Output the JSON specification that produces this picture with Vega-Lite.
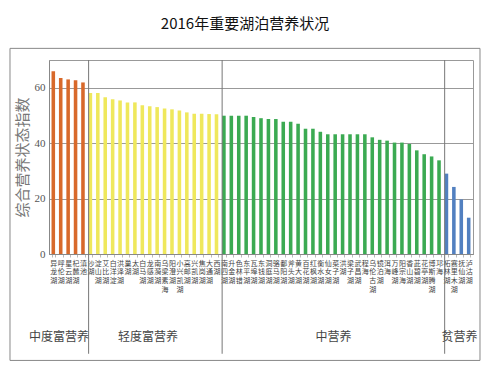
{
  "$schema": "https://vega.github.io/schema/vega-lite/v6.json",
  "width": 424,
  "height": 194,
  "autosize": "none",
  "padding": {"left": 49, "top": 60, "right": 12, "bottom": 121},
  "background": "white",
  "config": {"view": {"stroke": "#999"}},
  "title": {"text": "2016年重要湖泊营养状况", "font": "Noto Sans CJK SC", "fontSize": 15, "fontWeight": "normal", "color": "#111", "anchor": "middle", "dx": -16, "offset": 16},
  "datasets": {
    "lakes": [
      {"lake": "异龙湖", "value": 65.9, "group": "中度富营养"},
      {"lake": "呼伦湖", "value": 63.5, "group": "中度富营养"},
      {"lake": "星云湖", "value": 63.0, "group": "中度富营养"},
      {"lake": "杞麓湖", "value": 62.7, "group": "中度富营养"},
      {"lake": "滇池", "value": 61.9, "group": "中度富营养"},
      {"lake": "沙湖", "value": 58.1, "group": "轻度富营养"},
      {"lake": "淀山湖", "value": 58.1, "group": "轻度富营养"},
      {"lake": "艾比湖", "value": 56.6, "group": "轻度富营养"},
      {"lake": "白洋淀", "value": 55.8, "group": "轻度富营养"},
      {"lake": "洪泽湖", "value": 55.4, "group": "轻度富营养"},
      {"lake": "巢湖", "value": 54.7, "group": "轻度富营养"},
      {"lake": "太湖", "value": 54.7, "group": "轻度富营养"},
      {"lake": "白马湖", "value": 53.7, "group": "轻度富营养"},
      {"lake": "龙感湖", "value": 53.3, "group": "轻度富营养"},
      {"lake": "南漪湖", "value": 53.0, "group": "轻度富营养"},
      {"lake": "乌梁素海", "value": 52.5, "group": "轻度富营养"},
      {"lake": "阳澄湖", "value": 52.2, "group": "轻度富营养"},
      {"lake": "小兴凯湖", "value": 51.8, "group": "轻度富营养"},
      {"lake": "高邮湖", "value": 51.1, "group": "轻度富营养"},
      {"lake": "兴凯湖", "value": 50.6, "group": "轻度富营养"},
      {"lake": "焦岗湖", "value": 50.6, "group": "轻度富营养"},
      {"lake": "大通湖", "value": 50.5, "group": "轻度富营养"},
      {"lake": "西湖", "value": 50.4, "group": "轻度富营养"},
      {"lake": "南四湖", "value": 49.9, "group": "中营养"},
      {"lake": "升金湖", "value": 49.9, "group": "中营养"},
      {"lake": "色林错", "value": 49.9, "group": "中营养"},
      {"lake": "东平湖", "value": 49.9, "group": "中营养"},
      {"lake": "瓦埠湖", "value": 49.4, "group": "中营养"},
      {"lake": "东钱湖", "value": 49.0, "group": "中营养"},
      {"lake": "洞庭湖", "value": 48.7, "group": "中营养"},
      {"lake": "骆马湖", "value": 48.7, "group": "中营养"},
      {"lake": "鄱阳湖", "value": 47.7, "group": "中营养"},
      {"lake": "斧头湖", "value": 47.7, "group": "中营养"},
      {"lake": "黄大湖", "value": 47.0, "group": "中营养"},
      {"lake": "百花湖", "value": 45.2, "group": "中营养"},
      {"lake": "红枫湖", "value": 45.2, "group": "中营养"},
      {"lake": "衡水湖", "value": 44.1, "group": "中营养"},
      {"lake": "仙女湖", "value": 43.2, "group": "中营养"},
      {"lake": "菜子湖", "value": 43.2, "group": "中营养"},
      {"lake": "洪湖", "value": 43.2, "group": "中营养"},
      {"lake": "梁子湖", "value": 43.2, "group": "中营养"},
      {"lake": "武昌湖", "value": 43.2, "group": "中营养"},
      {"lake": "程海", "value": 43.2, "group": "中营养"},
      {"lake": "乌伦古湖", "value": 42.1, "group": "中营养"},
      {"lake": "镜泊湖", "value": 41.2, "group": "中营养"},
      {"lake": "洱海", "value": 40.9, "group": "中营养"},
      {"lake": "万峰湖", "value": 40.2, "group": "中营养"},
      {"lake": "阳宗海", "value": 40.2, "group": "中营养"},
      {"lake": "香山湖", "value": 39.7, "group": "中营养"},
      {"lake": "茈碧湖", "value": 37.4, "group": "中营养"},
      {"lake": "花亭湖", "value": 36.0, "group": "中营养"},
      {"lake": "博斯腾湖", "value": 35.2, "group": "中营养"},
      {"lake": "邛海", "value": 33.8, "group": "中营养"},
      {"lake": "柘林湖", "value": 29.0, "group": "贫营养"},
      {"lake": "赛里木湖", "value": 24.2, "group": "贫营养"},
      {"lake": "抚仙湖", "value": 19.7, "group": "贫营养"},
      {"lake": "泸沽湖", "value": 13.1, "group": "贫营养"}
    ]
  },
  "data": {"name": "lakes"},
  "resolve": {"scale": {"x": "independent"}, "axis": {"x": "independent"}},
  "layer": [
    {
      "layer": [
        {
          "mark": {"type": "bar"},
          "encoding": {
            "x": {
              "field": "lake", "type": "nominal", "sort": null,
              "scale": {"paddingInner": 0.52, "paddingOuter": 0.34},
              "axis": {
                "title": null, "labelAngle": 0, "labelExpr": "split(datum.label, '')",
                "labelFont": "Noto Sans CJK SC", "labelFontSize": 7, "labelLineHeight": 8.8,
                "labelColor": "#444", "labelBaseline": "top", "labelAlign": "center", "labelPadding": 2,
                "labelOverlap": false, "labelBound": false, "labelFlush": false,
                "ticks": true, "tickBand": "extent", "tickSize": 3, "tickColor": "#bbb",
                "domainColor": "#888", "grid": false
              }
            },
            "y": {
              "field": "value", "type": "quantitative",
              "scale": {"domain": [0, 70], "nice": false},
              "axis": {
                "values": [0, 10, 20, 30, 40, 50, 60, 70],
                "grid": true, "gridColor": "#999", "domainColor": "#888", "ticks": false,
                "labelPadding": 4, "labelFont": "Liberation Serif", "labelFontSize": 11, "labelColor": "#555",
                "title": "综合营养状态指数", "titleFont": "Noto Sans CJK SC", "titleFontSize": 15,
                "titleFontWeight": "normal", "titleColor": "#777", "titlePadding": 4
              }
            },
            "color": {
              "field": "group", "type": "nominal", "legend": null,
              "scale": {"domain": ["中度富营养", "轻度富营养", "中营养", "贫营养"], "range": ["#D8692B", "#EFE85C", "#3BAA52", "#5280C0"]}
            }
          }
        },
        {
          "transform": [{"filter": "indexof(['沙湖','南四湖','柘林湖'], datum.lake) >= 0"}],
          "mark": {"type": "rule", "color": "#777", "strokeWidth": 1},
          "encoding": {
            "x": {"field": "lake", "type": "nominal", "sort": null, "bandPosition": 0},
            "y": {"datum": 70},
            "y2": {"datum": -36}
          }
        },
        {
          "transform": [{"filter": "indexof(['呼伦湖','龙感湖','菜子湖','抚仙湖'], datum.lake) >= 0"}],
          "mark": {"type": "text", "font": "Noto Sans CJK SC", "fontSize": 12, "color": "#444", "baseline": "middle", "align": "center"},
          "encoding": {
            "x": {"field": "lake", "type": "nominal", "sort": null, "bandPosition": 0},
            "y": {"datum": -30},
            "text": {"field": "group"}
          }
        }
      ]
    },
    {
      "data": {"values": [{}]},
      "mark": {"type": "rect", "fill": null, "stroke": "#888", "strokeWidth": 1},
      "encoding": {
        "x": {"datum": -0.092, "type": "quantitative", "scale": {"domain": [0, 1], "nice": false, "zero": false}, "axis": null},
        "x2": {"datum": 1.0165},
        "y": {"datum": 74.2},
        "y2": {"datum": -38.4}
      }
    }
  ]
}
